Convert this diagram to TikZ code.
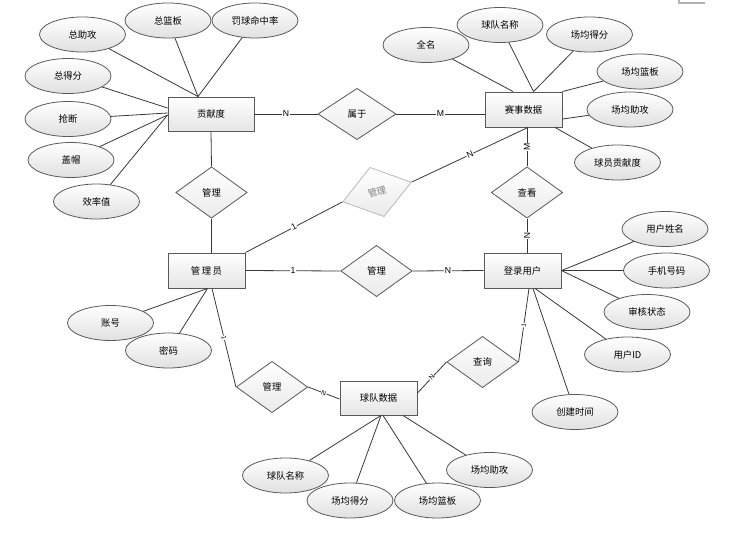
\documentclass[tikz,border=0pt]{standalone}
\usepackage{fontspec}
\setmainfont{Liberation Sans}
\newfontfamily\cjk{Noto Sans CJK SC}
\usetikzlibrary{shapes.geometric,calc}
\begin{document}
\begin{tikzpicture}[x=0.75pt,y=-0.75pt,
  conn/.style={draw=black!78, line width=0.6pt},
  ent/.style={rectangle, draw=black!65, line width=0.7pt, top color=white, bottom color=black!10,
    minimum width=57.75pt, minimum height=26.25pt, inner sep=0pt, font=\cjk\fontsize{7}{8}\selectfont},
  attr/.style={ellipse, draw=black!65, line width=0.6pt, top color=white, bottom color=black!12,
    minimum width=64.5pt, minimum height=26.25pt, inner sep=0pt, font=\cjk\fontsize{7}{8}\selectfont},
  rel/.style={diamond, draw=black!65, line width=0.6pt, top color=white, bottom color=black!8,
    aspect=1.4, minimum width=53.5pt, minimum height=38.5pt, inner sep=0pt, font=\cjk\fontsize{7}{8}\selectfont},
  grayrel/.style={draw=black!28, text=black!50},
  card/.style={fill=white, inner sep=0.5pt, font=\fontsize{6.5}{7}\selectfont},
  smallcard/.style={fill=white, inner sep=0.3pt, font=\fontsize{5}{5}\selectfont}
]
\path[use as bounding box] (0,0) rectangle (746,542);

% entities
\node[ent, minimum width=64.5pt, minimum height=25.5pt] (gx) at (211,114) {贡献度};
\node[ent] (ss) at (523.5,109.5) {赛事数据};
\node[ent] (mgr) at (206.5,270.5) {管\,理\,员};
\node[ent] (user) at (522.5,270.5) {登录用户};
\node[ent, minimum height=25.5pt] (team) at (378.5,398) {球队数据};

% relationships
\node[rel] (r1) at (211.5,192.5) {管理};
\node[rel, minimum width=58.5pt] (r2) at (357,114) {属于};
\node[rel, grayrel, rotate=16] (r3) at (377,192) {管理};
\node[rel] (r4) at (376.5,271) {管理};
\node[rel] (r5) at (527,192.5) {查看};
\node[rel] (r6) at (272,387) {管理};
\node[rel] (r7) at (482.5,362) {查询};

% attributes of 贡献度
\node[attr] (a1) at (82.5,34.5) {总助攻};
\node[attr] (a2) at (168,20.5) {总篮板};
\node[attr] (a3) at (255,20.5) {罚球命中率};
\node[attr] (a4) at (68,76) {总得分};
\node[attr] (a5) at (68,119) {抢断};
\node[attr] (a6) at (71,160) {盖帽};
\node[attr] (a7) at (96.5,201.5) {效率值};

% attributes of 赛事数据
\node[attr] (b1) at (426,45) {全名};
\node[attr] (b2) at (500,25) {球队名称};
\node[attr] (b3) at (589.5,34.5) {场均得分};
\node[attr] (b4) at (640,71.5) {场均篮板};
\node[attr] (b5) at (630,109.5) {场均助攻};
\node[attr] (b6) at (617.5,162.5) {球员贡献度};

% attributes of 登录用户
\node[attr] (c1) at (665,229) {用户姓名};
\node[attr] (c2) at (666.5,270.5) {手机号码};
\node[attr] (c3) at (647,312) {审核状态};
\node[attr] (c4) at (627.5,354.5) {用户ID};
\node[attr] (c5) at (575,412) {创建时间};

% attributes of 管理员
\node[attr] (d1) at (110.5,323) {账号};
\node[attr] (d2) at (168.5,350.5) {密码};

% attributes of 球队数据
\node[attr] (e1) at (285.5,475.5) {球队名称};
\node[attr] (e2) at (350,500.5) {场均得分};
\node[attr] (e3) at (437.5,500.5) {场均篮板};
\node[attr] (e4) at (489.5,470) {场均助攻};

% attribute connectors
\coordinate (gxt) at ($(gx.north)+(-13,0)$);
\draw[conn] (a1) -- (gxt);
\draw[conn] (a2) -- (gxt);
\draw[conn] (a3) -- (gxt);
\draw[conn] (a4) -- ($(gx.west)+(0,-6)$);
\draw[conn] (a5) -- ($(gx.west)+(0,-1)$);
\draw[conn] (a6) -- ($(gx.west)+(0,1)$);
\draw[conn] (a7) -- ($(gx.west)+(0,1)$);

\draw[conn] (b1) -- ($(ss.north)+(-10.5,0)$);
\draw[conn] (b2) -- ($(ss.north)+(10,0)$);
\draw[conn] (b3) -- ($(ss.north)+(10,0)$);
\draw[conn] (b4) -- (ss.north east);
\draw[conn] (b5) -- ($(ss.east)+(0,9.5)$);
\draw[conn] (b6) -- ($(ss.south)+(31.5,0)$);

\draw[conn] (c1) -- (user.east);
\draw[conn] (c2) -- (user.east);
\draw[conn] (c3) -- (user.east);
\draw[conn] (c4) -- ($(user.south)+(12.5,0)$);
\draw[conn] (c5) -- ($(user.south)+(10.5,0)$);

\draw[conn] (d1) -- ($(mgr.south)+(1,0)$);
\draw[conn] (d2) -- ($(mgr.south)+(1,0)$);

\draw[conn] (e1) -- ($(team.south)+(2.5,0)$);
\draw[conn] (e2) -- ($(team.south)+(2.5,0)$);
\draw[conn] (e3) -- ($(team.south)+(4.5,0)$);
\draw[conn] (e4) -- ($(team.south)+(24.5,0)$);

% relationship connectors
\draw[conn] (gx.east) -- node[card]{N} (r2.west);
\draw[conn] (r2.east) -- node[card]{M} (ss.west |- r2.east);
\draw[conn] (r3.east) -- node[card, sloped]{N} ($(ss.south)+(4.5,0)$);
\draw[conn] (r5.north) -- node[card, sloped]{M} (r5.north |- ss.south);
\draw[conn] (r5.south) -- node[card, sloped]{N} (r5.south |- user.north);
\draw[conn] (gx.south) -- (r1.north);
\draw[conn] (r1.south) -- (r1.south |- mgr.north);
\draw[conn] (mgr.north east) -- node[card, sloped]{1} (r3.west);
\draw[conn] (mgr.east) -- node[card]{1} (r4.west);
\draw[conn] (r4.east) -- node[card]{N} (user.west);
\draw[conn] ($(mgr.south)+(5.5,0)$) -- node[smallcard, sloped]{1} (r6.west);
\draw[conn] (r6.east) -- node[smallcard, sloped]{N} ($(team.west)+(0,1)$);
\draw[conn] ($(team.east)+(0,-5)$) -- node[smallcard, sloped]{N} (r7.west);
\draw[conn] (r7.east) -- node[smallcard, sloped]{1} ($(user.south)+(6.5,0)$);

% small mark at the top right
\draw[black!30, line width=0.8pt] (679,0) -- (679,3) -- (705,3);
\end{tikzpicture}
\end{document}
